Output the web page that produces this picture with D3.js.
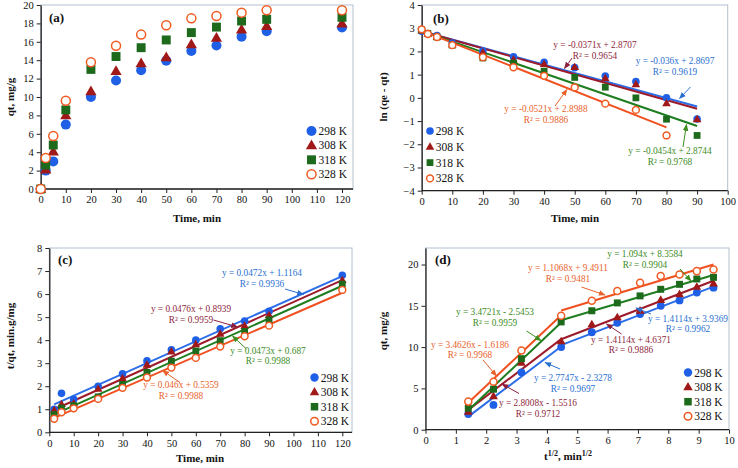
<!DOCTYPE html>
<html><head><meta charset="utf-8">
<script src="https://cdn.jsdelivr.net/npm/d3@7"></script>
<style>body{margin:0;background:#fff}svg{display:block}text{font-family:"Liberation Serif","Times New Roman",serif}</style>
</head><body><svg id="c" width="738" height="468"></svg>
<script>
// ---------- DATA ----------
const series = ["298 K","308 K","318 K","328 K"];
// (a) qt vs time
const timesA = [0,2,5,10,20,30,40,50,60,70,80,90,120];
const qt298 = [0,2.0,3.0,7.0,10.0,11.8,12.9,13.95,15.0,15.6,16.55,17.15,17.55];
const qt308 = [0,2.1,4.05,8.0,10.6,12.8,13.65,14.3,15.7,16.4,17.3,17.7,17.95];
const qt318 = [0,2.6,4.78,8.6,13.0,14.4,15.36,16.2,17.0,17.6,18.26,18.44,18.66];
const qt328 = [0,3.37,5.76,9.6,13.77,15.58,16.78,17.79,18.55,18.8,19.17,19.42,19.42];
// (b) ln(qe-qt) vs time
const timesB = [0,2,5,10,20,30,40,50,60,70,80,90];
const ln298 = [2.87,2.75,2.68,2.36,2.02,1.77,1.53,1.30,0.94,0.70,0.0,-0.91];
const ln308 = [2.9,2.76,2.63,2.29,1.95,1.65,1.45,1.32,0.84,0.58,-0.24,-0.93];
const ln318 = [2.93,2.78,2.62,2.27,1.72,1.5,1.15,0.88,0.46,0.0,-0.92,-1.62];
const ln328 = [2.95,2.75,2.62,2.27,1.75,1.32,0.95,0.45,-0.25,-0.52,-1.62];
const slopeB = [-0.036,-0.0371,-0.0454,-0.0521];
const interB = [2.8697,2.8707,2.8744,2.8988];
const r2B = ["0.9619","0.9654","0.9768","0.9886"];
const fitEndB = [90,90,90,80];
// (c) t/qt vs time
const timesC = [2,5,10,20,30,40,50,60,70,80,90,120];
const tq298 = [1.0,1.69,1.43,2.0,2.54,3.1,3.58,4.0,4.49,4.83,5.25,6.82];
const tq308 = [0.95,1.22,1.25,1.88,2.34,2.93,3.5,3.82,4.27,4.62,5.08,6.6];
const tq318 = [0.77,1.05,1.16,1.54,2.08,2.6,3.09,3.53,3.98,4.38,4.88,6.43];
const tq328 = [0.59,0.87,1.04,1.45,1.93,2.38,2.81,3.23,3.72,4.17,4.63,6.18];
const slopeC = [0.0472,0.0476,0.0473,0.046];
const interC = [1.1164,0.8939,0.687,0.5359];
const r2C = ["0.9936","0.9959","0.9988","0.9988"];
// (d) qt vs t^1/2
const sqrtT = [1.41,2.24,3.16,4.47,5.48,6.32,7.07,7.75,8.37,8.94,9.49];
const qd298 = [1.9,3.0,6.95,10.0,11.8,12.95,14.0,15.0,15.65,16.6,17.2];
const qd308 = [2.15,4.05,8.1,10.7,12.75,13.6,14.4,15.7,16.4,17.3,17.7];
const qd318 = [2.6,4.9,8.6,13.05,14.4,15.35,16.2,17.0,17.6,18.25,18.45];
const qd328 = [3.4,5.8,9.6,13.8,15.6,16.8,17.8,18.6,18.8,19.2,19.4];
const slope1D = [2.7747,2.8008,3.4721,3.4626];
const inter1D = [-2.3278,-1.5516,-2.5453,-1.6186];
const r21D = ["0.9697","0.9712","0.9959","0.9968"];
const slope2D = [1.4114,1.4114,1.094,1.1068];
const inter2D = [3.9369,4.6371,8.3584,9.4911];
const r22D = ["0.9962","0.9886","0.9904","0.9481"];
const breakD = 4.47, startD = 1.41, endD = 9.49;

// ---------- STYLE ----------
const markColor = ["#1f5fe6","#a01818","#1d6a1d","#f05a22"];
const lineColor = ["#2b6de8","#9c1a2a","#1e7d1e","#f05020"];
const textColor = ["#2a6fd0","#8e1f3c","#3c8c1e","#e8622c"];

const svg = d3.select("#c");
svg.append("rect").attr("width",738).attr("height",468).attr("fill","#fff");
const defs = svg.append("defs");
textColor.forEach((c,i)=>{
  defs.append("marker").attr("id","ah"+i).attr("viewBox","0 0 10 10").attr("refX",9).attr("refY",5)
    .attr("markerWidth",7).attr("markerHeight",7).attr("orient","auto-start-reverse")
    .append("path").attr("d","M0,1 L10,5 L0,9 Z").attr("fill",c);
});

function marker(g, k, x, y, r){
  if(k===0) g.append("circle").attr("cx",x).attr("cy",y).attr("r",r).attr("fill",markColor[0]);
  else if(k===1) g.append("path").attr("transform",`translate(${x},${y+r*0.1})`)
      .attr("d",d3.symbol(d3.symbolTriangle, r*r*2.2)()).attr("fill",markColor[1]);
  else if(k===2) g.append("path").attr("transform",`translate(${x},${y})`)
      .attr("d",d3.symbol(d3.symbolSquare, r*r*3.2)()).attr("fill",markColor[2]);
  else g.append("circle").attr("cx",x).attr("cy",y).attr("r",r*0.9).attr("fill","#fff")
      .attr("stroke",markColor[3]).attr("stroke-width",1.5);
}

function panel(o){
  const g = svg.append("g");
  const x = d3.scaleLinear().domain(o.xd).range(o.xr);
  const y = d3.scaleLinear().domain(o.yd).range(o.yr);
  g.append("rect").attr("x",o.xr[0]).attr("y",o.yr[1]).attr("width",o.frameR-o.xr[0]).attr("height",o.yr[0]-o.yr[1])
    .attr("fill","none").attr("stroke","#b3c0cd").attr("stroke-width",1);
  const ax = g.append("g").attr("transform",`translate(0,${o.yr[0]})`)
    .call(d3.axisBottom(x).tickValues(o.xt).tickSize(4).tickSizeOuter(0).tickPadding(3));
  ax.select(".domain").attr("d",`M${o.xr[0]},0H${o.frameR}`);
  const ay = g.append("g").attr("transform",`translate(${o.xr[0]},0)`)
    .call(d3.axisLeft(y).tickValues(o.yt).tickSize(4).tickSizeOuter(0).tickPadding(3));
  [ax,ay].forEach(a=>{
    a.attr("font-family","Liberation Serif");
    a.select(".domain").attr("stroke","#222").attr("stroke-width",1.3);
    a.selectAll(".tick line").attr("stroke","#222").attr("stroke-width",1);
    a.selectAll(".tick text").attr("font-size",10.5).attr("fill","#111");
  });
  g.append("text").attr("x",o.xtx).attr("y",o.xty).attr("text-anchor","middle").attr("font-weight","bold")
    .attr("font-size",11).attr("fill","#111").html(o.xtitle);
  g.append("text").attr("transform",`translate(${o.ytx},${o.yty}) rotate(-90)`).attr("text-anchor","middle")
    .attr("font-weight","bold").attr("font-size",11).attr("fill","#111").text(o.ytitle);
  g.append("text").attr("x",o.lab[0]).attr("y",o.lab[1]).attr("font-weight","bold").attr("font-size",13)
    .attr("fill","#111").text(o.label);
  return {g,x,y};
}

function legend(g, lx, ly, dy, r){
  series.forEach((s,i)=>{
    marker(g,i,lx,ly+i*dy,r);
    g.append("text").attr("x",lx+r+2).attr("y",ly+i*dy+4).attr("font-size",11.5).attr("fill","#111").text(s);
  });
}

function note(g, k, cx, cy, l1, l2, a){
  g.append("text").attr("x",cx).attr("y",cy).attr("text-anchor","middle").attr("font-size",9.3)
    .attr("fill",textColor[k]).text(l1);
  g.append("text").attr("x",cx).attr("y",cy+10.5).attr("text-anchor","middle").attr("font-size",9.3)
    .attr("fill",textColor[k]).text(l2);
  g.append("line").attr("x1",a[0]).attr("y1",a[1]).attr("x2",a[2]).attr("y2",a[3])
    .attr("stroke",textColor[k]).attr("stroke-width",1).attr("marker-end",`url(#ah${k})`);
}
const fmt = (m,b)=>`y = ${m}x ${b<0?"-":"+"} ${Math.abs(b)}`;

// ---------- (a) ----------
{
  const p = panel({xd:[0,120],xr:[40.7,342],yd:[0,20],yr:[189,5],frameR:353,
    xt:d3.range(0,121,10),yt:d3.range(0,21,2),xtitle:"Time, min",xtx:197,xty:222,
    ytitle:"qt, mg/g",ytx:14,yty:97,label:"(a)",lab:[49,22]});
  const data=[qt298,qt308,qt318,qt328];
  data.forEach((arr,k)=>arr.forEach((v,i)=>marker(p.g,k,p.x(timesA[i]),p.y(v),5)));
  legend(p.g,311.5,131,14.4,5);
}
// ---------- (b) ----------
{
  const p = panel({xd:[0,100],xr:[421.7,727.7],yd:[-4,4],yr:[190.7,5],frameR:727.7,
    xt:d3.range(0,101,10),yt:d3.range(-4,5,1),xtitle:"Time, min",xtx:575,xty:222,
    ytitle:"ln (qe - qt)",ytx:387,yty:97,label:"(b)",lab:[433,23]});
  const data=[ln298,ln308,ln318,ln328];
  [0,1,2,3].forEach(k=>{
    p.g.append("line").attr("x1",p.x(0)).attr("y1",p.y(interB[k]))
      .attr("x2",p.x(fitEndB[k])).attr("y2",p.y(interB[k]+slopeB[k]*fitEndB[k]))
      .attr("stroke",lineColor[k]).attr("stroke-width",2);
  });
  data.forEach((arr,k)=>arr.forEach((v,i)=>marker(p.g,k,p.x(timesB[i]),p.y(v),3.8)));
  legend(p.g,430,131,15.8,3.8);
  note(p.g,1,595,48,fmt(slopeB[1],interB[1]),"R² = "+r2B[1],[572,58,564.5,68.5]);
  note(p.g,0,675,64,fmt(slopeB[0],interB[0]),"R² = "+r2B[0],[690.5,87,679.5,98.5]);
  note(p.g,3,546,112,fmt(slopeB[3],interB[3]),"R² = "+r2B[3],[555,106,567,89.5]);
  note(p.g,2,670,154,fmt(slopeB[2],interB[2]),"R² = "+r2B[2],[683,147,686.5,124.5]);
}
// ---------- (c) ----------
{
  const p = panel({xd:[0,120],xr:[49.3,342.3],yd:[0,8],yr:[432.3,248],frameR:352,
    xt:d3.range(0,121,10),yt:d3.range(0,9,1),xtitle:"Time, min",xtx:200,xty:462,
    ytitle:"t/qt, min.g/mg",ytx:14,yty:336,label:"(c)",lab:[58,264]});
  const data=[tq298,tq308,tq318,tq328];
  [0,1,2,3].forEach(k=>{
    p.g.append("line").attr("x1",p.x(2)).attr("y1",p.y(interC[k]+slopeC[k]*2))
      .attr("x2",p.x(120)).attr("y2",p.y(interC[k]+slopeC[k]*120))
      .attr("stroke",lineColor[k]).attr("stroke-width",2);
  });
  data.forEach((arr,k)=>arr.forEach((v,i)=>marker(p.g,k,p.x(timesC[i]),p.y(v),3.8)));
  legend(p.g,314.5,377.5,14.6,4.2);
  note(p.g,0,262,276,fmt(slopeC[0],interC[0]),"R² = "+r2C[0],[285,289,303.5,294.5]);
  note(p.g,1,191,312,fmt(slopeC[1],interC[1]),"R² = "+r2C[1],[213.5,320,237.5,327]);
  note(p.g,2,268,353.5,fmt(slopeC[2],interC[2]),"R² = "+r2C[2],[246.5,349,232.5,336]);
  note(p.g,3,181,388,fmt(slopeC[3],interC[3]),"R² = "+r2C[3],[180,382.5,162.5,370.5]);
}
// ---------- (d) ----------
{
  const p = panel({xd:[0,10],xr:[425.5,729],yd:[0,22],yr:[429.7,248],frameR:729,
    xt:d3.range(0,11,1),yt:d3.range(0,21,5),
    xtitle:"t<tspan dy='-4' font-size='8'>1/2</tspan><tspan dy='4'>, min</tspan><tspan dy='-4' font-size='8'>1/2</tspan>",
    xtx:568,xty:460,ytitle:"qt, mg/g",ytx:387,yty:331,label:"(d)",lab:[435,264]});
  const data=[qd298,qd308,qd318,qd328];
  [0,1,2,3].forEach(k=>{
    p.g.append("line").attr("x1",p.x(startD)).attr("y1",p.y(inter1D[k]+slope1D[k]*startD))
      .attr("x2",p.x(breakD)).attr("y2",p.y(inter1D[k]+slope1D[k]*breakD))
      .attr("stroke",lineColor[k]).attr("stroke-width",2);
    p.g.append("line").attr("x1",p.x(breakD)).attr("y1",p.y(inter2D[k]+slope2D[k]*breakD))
      .attr("x2",p.x(endD)).attr("y2",p.y(inter2D[k]+slope2D[k]*endD))
      .attr("stroke",lineColor[k]).attr("stroke-width",2);
  });
  data.forEach((arr,k)=>arr.forEach((v,i)=>marker(p.g,k,p.x(sqrtT[i]),p.y(v),3.9)));
  legend(p.g,688,372.5,14.6,4.2);
  note(p.g,2,645,257,fmt(slope2D[2],inter2D[2]),"R² = "+r22D[2],[680,269,691,281]);
  note(p.g,3,568,271,fmt(slope2D[3],inter2D[3]),"R² = "+r22D[3],[581.5,287,605,295]);
  note(p.g,2,495,315,fmt(slope1D[2],inter1D[2]),"R² = "+r21D[2],[526.5,331,541,340.5]);
  note(p.g,0,688,321.5,fmt(slope2D[0],inter2D[0]),"R² = "+r22D[0],[651,314,636,308]);
  note(p.g,1,631,342.5,fmt(slope2D[1],inter2D[1]),"R² = "+r22D[1],[621.5,334,606.5,324]);
  note(p.g,3,470,347.5,fmt(slope1D[3],inter1D[3]),"R² = "+r21D[3],[483,360,496.5,376]);
  note(p.g,0,573,381,fmt(slope1D[0],inter1D[0]),"R² = "+r21D[0],[560,369,545,362.5]);
  note(p.g,1,538,406,fmt(slope1D[1],inter1D[1]),"R² = "+r21D[1],[519,393.5,502,384]);
}
</script></body></html>
